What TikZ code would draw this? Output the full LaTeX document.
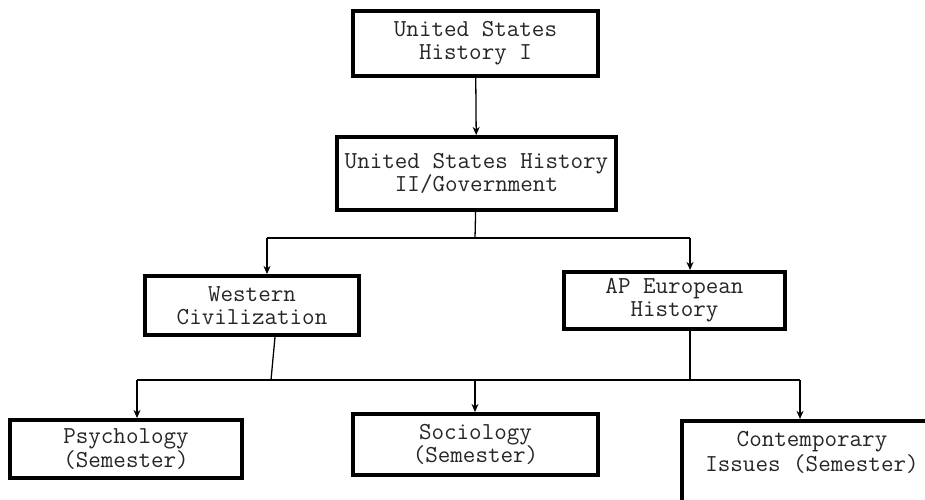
\documentclass[tikz,border=0pt]{standalone}
\usetikzlibrary{arrows.meta}

\begin{document}
\begin{tikzpicture}[x=0.03cm, y=-0.03cm, >={Stealth[length=7pt, width=6pt]}, line join=miter,
	font=\ttfamily\fontsize{20.8}{19.8}\selectfont,
	course/.style={draw, line width=3.3pt, align=center, inner sep=0pt, text=black!85},
	link/.style={line width=1.1pt}]
	% Khung hình
	\useasboundingbox (0,0) rectangle (925,499);
	\clip (0,0) rectangle (925,499);
	\fill[white] (0,0) rectangle (925,499);

	% Các khối môn học
	\node[course, minimum width=7.35cm, minimum height=1.95cm] (ush1) at (475.5,43.5) {United States\\History I};
	\node[course, minimum width=8.37cm, minimum height=2.19cm] (ush2) at (476.5,173.5) {United States History\\II/Government};
	\node[course, minimum width=6.42cm, minimum height=1.77cm] (wciv) at (252,305.5) {Western\\Civilization};
	\node[course, minimum width=6.63cm, minimum height=1.71cm] (apeu) at (674.5,300.5) {AP European\\History};
	\node[course, minimum width=6.96cm, minimum height=1.74cm] (psy) at (126,449) {Psychology\\(Semester)};
	\node[course, minimum width=7.35cm, minimum height=1.83cm] (soc) at (475.5,444.5) {Sociology\\(Semester)};
	\node[course, anchor=north, minimum width=7.8cm, inner ysep=0.3cm, text depth=1.5cm] (ci) at (812,419) {Contemporary\\[2pt]Issues (Semester)};

	% Điểm rẽ nhánh
	\coordinate (s1) at (475,238);
	\coordinate (l1) at (267,238);
	\coordinate (r1) at (690,238);
	\coordinate (w2) at (271,380);
	\coordinate (a2) at (690,380);
	\coordinate (l2) at (137,380);
	\coordinate (m2) at (475,380);
	\coordinate (r2) at (800,380);

	% Đường nối
	\draw[link, ->] (ush1) -- (ush2);
	\draw[link] (ush2) -- (s1);
	\draw[link] (l1) -- (r1);
	\draw[link, ->] (l1) -- (l1 |- wciv.north);
	\draw[link, ->] (r1) -- (r1 |- apeu.north);

	\draw[link] (wciv.south -| 275,0) -- (w2);
	\draw[link] (apeu.south -| a2) -- (a2);
	\draw[link] (l2) -- (r2);
	\foreach \p/\n in {l2/psy, m2/soc, r2/ci} {
		\draw[link, ->] (\p) -- (\p |- \n.north);
	}
\end{tikzpicture}
\end{document}
